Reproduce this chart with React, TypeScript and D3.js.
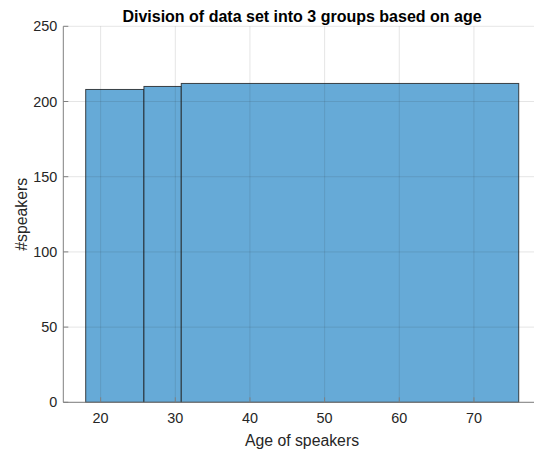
import React from "react";
import * as d3 from "d3";

const binEdges = [18, 25.8, 30.8, 76];
const binCounts = [208, 210, 212];
const xTicks = [20, 30, 40, 50, 60, 70];
const yTicks = [0, 50, 100, 150, 200, 250];
const title = "Division of data set into 3 groups based on age";
const xLabel = "Age of speakers";
const yLabel = "#speakers";

export default function App() {
  const W = 534, H = 454;
  const left = 63.3, top = 26.3, bottom = 402.3;
  const x = d3.scaleLinear().domain([15, 80]).range([left, left + 74.66 * 6.5]);
  const y = d3.scaleLinear().domain([0, 250]).range([bottom, top]);
  const right = x(80);
  const font = "'Liberation Sans', Arial, Helvetica, sans-serif";
  const bars = binCounts.map((c, i) => ({ x0: binEdges[i], x1: binEdges[i + 1], c }));
  return (
    <svg width={W} height={H} style={{ position: "absolute", left: 0, top: 0, background: "#fff" }}>
      <rect x={0} y={0} width={W} height={H} fill="#fff" />
      {bars.map((b, i) => (
        <rect key={i} x={x(b.x0)} y={y(b.c)} width={x(b.x1) - x(b.x0)} height={bottom - y(b.c)}
          fill="#66AAD7" stroke="#1a1a1a" strokeOpacity={0.8} strokeWidth={1} />
      ))}
      {xTicks.map((t) => (
        <line key={"gx" + t} x1={x(t)} x2={x(t)} y1={top} y2={bottom} stroke="#262626" strokeOpacity={0.12} />
      ))}
      {yTicks.map((t) => (
        <line key={"gy" + t} x1={left} x2={right} y1={y(t)} y2={y(t)} stroke="#262626" strokeOpacity={0.12} />
      ))}
      <line x1={left} x2={left} y1={top} y2={bottom} stroke="#808080" />
      <line x1={left} x2={right} y1={bottom} y2={bottom} stroke="#808080" />
      {yTicks.map((t) => (
        <g key={"ty" + t}>
          <line x1={left} x2={left + 5} y1={y(t)} y2={y(t)} stroke="#808080" />
          <text x={left - 6} y={y(t)} dy="0.35em" textAnchor="end" fontSize={14.4} fontFamily={font} fill="#262626">{t}</text>
        </g>
      ))}
      {xTicks.map((t) => (
        <g key={"tx" + t}>
          <line x1={x(t)} x2={x(t)} y1={bottom} y2={bottom - 5} stroke="#808080" />
          <text x={x(t)} y={bottom + 21} textAnchor="middle" fontSize={14.4} fontFamily={font} fill="#262626">{t}</text>
        </g>
      ))}
      <text x={302} y={21.5} textAnchor="middle" fontSize={16} fontWeight="bold" fontFamily={font} fill="#000">{title}</text>
      <text x={302} y={446} textAnchor="middle" fontSize={15.8} fontFamily={font} fill="#262626">{xLabel}</text>
      <text transform={`translate(27,${(top + bottom) / 2}) rotate(-90)`} textAnchor="middle" fontSize={15.8} fontFamily={font} fill="#262626">{yLabel}</text>
    </svg>
  );
}
